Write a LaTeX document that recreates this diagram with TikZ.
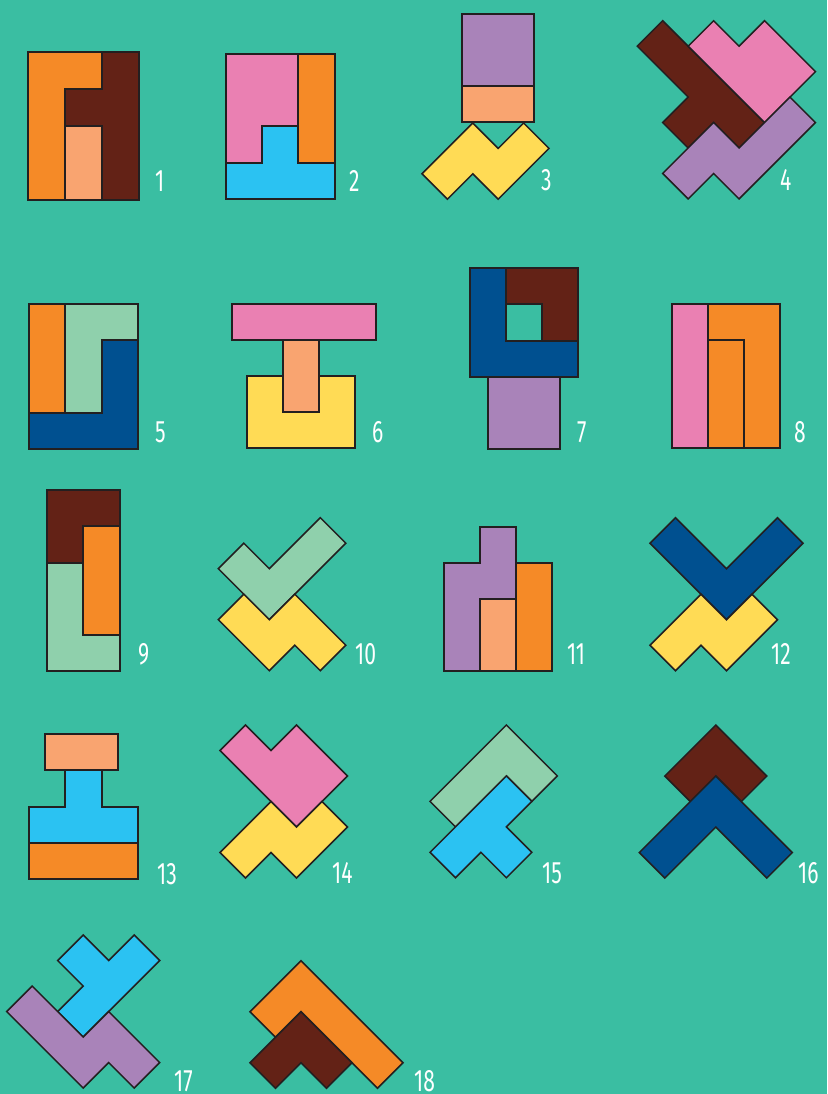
\documentclass[tikz,border=0pt]{standalone}
\usepackage{fontspec}
\setmainfont{Fira Sans}
\usepackage{xcolor}
\usetikzlibrary{math}
\definecolor{mybg}{RGB}{58,190,162}
\definecolor{myline}{RGB}{35,31,32}
\definecolor{myorange}{RGB}{245,138,39}
\definecolor{mybrown}{RGB}{99,34,22}
\definecolor{mysalmon}{RGB}{249,164,112}
\definecolor{mypink}{RGB}{234,128,178}
\definecolor{mycyan}{RGB}{43,194,242}
\definecolor{mypurple}{RGB}{169,131,185}
\definecolor{myyellow}{RGB}{255,219,85}
\definecolor{mygreen}{RGB}{143,208,172}
\definecolor{myblue}{RGB}{0,80,144}
\tikzset{
  piece/.style={draw=myline, line width=2pt, line join=miter},
  dpiece/.style={draw=myline, line width=1.5pt, line join=miter},
  numlabel/.style={text=white, font=\fontsize{31}{31}\selectfont, anchor=base west, inner sep=0pt, xscale=0.68}
}

\begin{document}
\begin{tikzpicture}[x=1pt,y=-1pt]
\tikzmath{
\c=36;
\d=25.46;
}
\useasboundingbox (0,0) rectangle (827,1094);
\fill[mybg] (0,0) rectangle (827,1094);

% 1
\begin{scope}[shift={(28,52)}, scale=36.9]
\filldraw[piece, fill=myorange] (0,0) -- (2,0) -- (2,1) -- (1,1) -- (1,4) -- (0,4) -- cycle;
\filldraw[piece, fill=mysalmon] (1,2) rectangle (2,4);
\filldraw[piece, fill=mybrown] (2,0) -- (3,0) -- (3,4) -- (2,4) -- (2,2) -- (1,2) -- (1,1) -- (2,1) -- cycle;
\end{scope}

% 2
\begin{scope}[shift={(226,54)}, scale=36.2]
\filldraw[piece, fill=mypink] (0,0) -- (2,0) -- (2,2) -- (1,2) -- (1,3) -- (0,3) -- cycle;
\filldraw[piece, fill=myorange] (2,0) rectangle (3,3);
\filldraw[piece, fill=mycyan] (0,3) -- (1,3) -- (1,2) -- (2,2) -- (2,3) -- (3,3) -- (3,4) -- (0,4) -- cycle;
\end{scope}

% 3
\begin{scope}[shift={(462,14)}, scale=\c]
\filldraw[piece, fill=mypurple] (0,0) rectangle (2,2);
\filldraw[piece, fill=mysalmon] (0,2) rectangle (2,3);
\end{scope}
\begin{scope}[shift={(422,123)}, scale=25.4]
\filldraw[dpiece, fill=myyellow] (0,2) -- (2,0) -- (3,1) -- (4,0) -- (5,1) -- (3,3) -- (2,2) -- (1,3) -- cycle;
\end{scope}

% 4
\begin{scope}[shift={(662.7,20.7)}, scale=\d]
\filldraw[dpiece, fill=mybrown] (-1,1) -- (0,0) -- (4,4) -- (3,5) -- (2,4) -- (1,5) -- (0,4) -- (1,3) -- cycle;
\filldraw[dpiece, fill=mypink] (1,1) -- (2,0) -- (3,1) -- (4,0) -- (6,2) -- (4,4) -- cycle;
\filldraw[dpiece, fill=mypurple] (0,6) -- (2,4) -- (3,5) -- (5,3) -- (6,4) -- (3,7) -- (2,6) -- (1,7) -- cycle;
\end{scope}

% 5
\begin{scope}[shift={(29.3,304.3)}, scale=36.1]
\filldraw[piece, fill=myorange] (0,0) rectangle (1,3);
\filldraw[piece, fill=mygreen] (1,0) -- (3,0) -- (3,1) -- (2,1) -- (2,3) -- (1,3) -- cycle;
\filldraw[piece, fill=myblue] (2,1) -- (3,1) -- (3,4) -- (0,4) -- (0,3) -- (2,3) -- cycle;
\end{scope}

% 6
\begin{scope}[shift={(246.7,304.3)}, scale=\c]
\filldraw[piece, fill=mypink] (-0.4,0) rectangle (3.6,1);
\filldraw[piece, fill=mysalmon] (1,1) rectangle (2,3);
\filldraw[piece, fill=myyellow] (0,2) -- (1,2) -- (1,3) -- (2,3) -- (2,2) -- (3,2) -- (3,4) -- (0,4) -- cycle;
\end{scope}

% 7
\begin{scope}[shift={(470,268.3)}, scale=36.1]
\filldraw[piece, fill=myblue] (0,0) -- (1,0) -- (1,2) -- (3,2) -- (3,3) -- (0,3) -- cycle;
\filldraw[piece, fill=mybrown] (1,0) -- (3,0) -- (3,2) -- (2,2) -- (2,1) -- (1,1) -- cycle;
\filldraw[piece, fill=mypurple] (0.5,3) rectangle (2.5,5);
\end{scope}

% 8
\begin{scope}[shift={(672.3,304.3)}, scale=\c]
\filldraw[piece, fill=mypink] (0,0) rectangle (1,4);
\filldraw[piece, fill=myorange] (1,0) -- (3,0) -- (3,4) -- (2,4) -- (2,1) -- (1,1) -- cycle;
\filldraw[piece, fill=myorange] (1,1) rectangle (2,4);
\end{scope}

% 9
\begin{scope}[shift={(47.3,490.3)}, scale=36.1]
\filldraw[piece, fill=mybrown] (0,0) -- (2,0) -- (2,1) -- (1,1) -- (1,2) -- (0,2) -- cycle;
\filldraw[piece, fill=myorange] (1,1) rectangle (2,4);
\filldraw[piece, fill=mygreen] (0,2) -- (1,2) -- (1,4) -- (2,4) -- (2,5) -- (0,5) -- cycle;
\end{scope}

% 10
\begin{scope}[shift={(218.3,517.7)}, scale=25.5]
\filldraw[dpiece, fill=mygreen] (0,2) -- (1,1) -- (2,2) -- (4,0) -- (5,1) -- (2,4) -- cycle;
\filldraw[dpiece, fill=myyellow] (0,4) -- (1,3) -- (2,4) -- (3,3) -- (5,5) -- (4,6) -- (3,5) -- (2,6) -- cycle;
\end{scope}

% 11
\begin{scope}[shift={(444,526.7)}, scale=\c]
\filldraw[piece, fill=mypurple] (0,1) -- (1,1) -- (1,0) -- (2,0) -- (2,2) -- (1,2) -- (1,4) -- (0,4) -- cycle;
\filldraw[piece, fill=mysalmon] (1,2) rectangle (2,4);
\filldraw[piece, fill=myorange] (2,1) rectangle (3,4);
\end{scope}

% 12
\begin{scope}[shift={(650,517.7)}, scale=25.5]
\filldraw[dpiece, fill=myblue] (0,1) -- (1,0) -- (3,2) -- (5,0) -- (6,1) -- (3,4) -- cycle;
\filldraw[dpiece, fill=myyellow] (0,5) -- (2,3) -- (3,4) -- (4,3) -- (5,4) -- (3,6) -- (2,5) -- (1,6) -- cycle;
\end{scope}

% 13
\begin{scope}[shift={(29.3,734.3)}, scale=36.1]
\filldraw[piece, fill=mysalmon] (0.44,0) rectangle (2.45,1);
\filldraw[piece, fill=mycyan] (1,1) -- (2,1) -- (2,2) -- (3,2) -- (3,3) -- (0,3) -- (0,2) -- (1,2) -- cycle;
\filldraw[piece, fill=myorange] (0,3) rectangle (3,4);
\end{scope}

% 14
\begin{scope}[shift={(220,725)}, scale=25.5]
\filldraw[dpiece, fill=mypink] (0,1) -- (1,0) -- (2,1) -- (3,0) -- (5,2) -- (3,4) -- cycle;
\filldraw[dpiece, fill=myyellow] (0,5) -- (2,3) -- (3,4) -- (4,3) -- (5,4) -- (3,6) -- (2,5) -- (1,6) -- cycle;
\end{scope}

% 15
\begin{scope}[shift={(430,725)}, scale=\d]
\filldraw[dpiece, fill=mygreen] (0,3) -- (3,0) -- (5,2) -- (4,3) -- (3,2) -- (1,4) -- cycle;
\filldraw[dpiece, fill=mycyan] (0,5) -- (3,2) -- (4,3) -- (3,4) -- (4,5) -- (3,6) -- (2,5) -- (1,6) -- cycle;
\end{scope}

% 16
\begin{scope}[shift={(639.3,725)}, scale=25.5]
\filldraw[dpiece, fill=mybrown] (1,2) -- (3,0) -- (5,2) -- (4,3) -- (3,2) -- (2,3) -- cycle;
\filldraw[dpiece, fill=myblue] (0,5) -- (3,2) -- (6,5) -- (5,6) -- (3,4) -- (1,6) -- cycle;
\end{scope}

% 17
\begin{scope}[shift={(6.7,935)}, scale=25.5]
\filldraw[dpiece, fill=mycyan] (2,1) -- (3,0) -- (4,1) -- (5,0) -- (6,1) -- (3,4) -- (2,3) -- (3,2) -- cycle;
\filldraw[dpiece, fill=mypurple] (0,3) -- (1,2) -- (3,4) -- (4,3) -- (6,5) -- (5,6) -- (4,5) -- (3,6) -- cycle;
\end{scope}

% 18
\begin{scope}[shift={(250,960.7)}, scale=25.5]
\filldraw[dpiece, fill=myorange] (0,2) -- (2,0) -- (6,4) -- (5,5) -- (2,2) -- (1,3) -- cycle;
\filldraw[dpiece, fill=mybrown] (0,4) -- (2,2) -- (4,4) -- (3,5) -- (2,4) -- (1,5) -- cycle;
\end{scope}

% numbers
\foreach \n/\x/\y in {1/155/191, 2/349/191, 3/541/190, 4/780/190,
  5/155/442, 6/372/442, 7/577/442, 8/794/442,
  9/138/664, 10/355/664, 11/567/664, 12/771/664,
  13/157/884, 14/332/883, 15/542/883, 16/798/883,
  17/174/1091, 18/414/1091}{
\node[numlabel] (lab\n) at (\x,\y) {\n};
}
\end{tikzpicture}
\end{document}
